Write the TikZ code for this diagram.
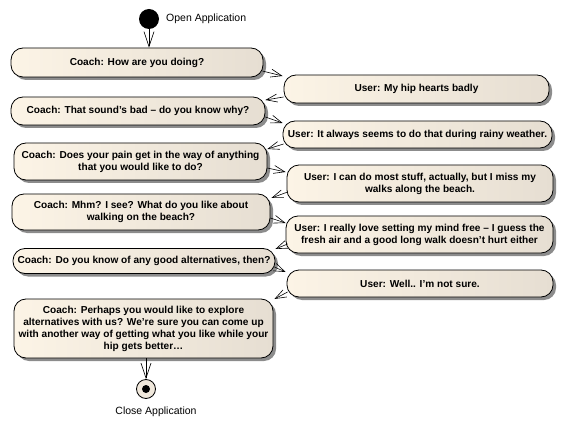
\documentclass[tikz,border=0pt]{standalone}
\usepackage{fontspec}
\setmainfont{Liberation Sans}
\usetikzlibrary{arrows.meta,shadows,calc}
\definecolor{boxL}{RGB}{252,244,230}
\definecolor{boxR}{RGB}{230,222,210}
\definecolor{endfill}{RGB}{240,232,220}
\tikzset{
  msg/.style={draw=black, line width=0.8pt, rounded corners=12pt, left color=boxL, right color=boxR,
    align=center, inner sep=0pt, font=\bfseries\fontsize{10.1}{12}\selectfont,
    drop shadow={shadow xshift=3pt, shadow yshift=-3pt, fill=black!45, opacity=1}},
  flow/.style={draw=black, line width=0.6pt, -{Straight Barb[length=11pt,width=8pt]}},
  vflow/.style={draw=black, line width=0.6pt, -{Straight Barb[length=15pt,width=10pt]}},
  lab/.style={font=\fontsize{10.5}{12}\selectfont, inner sep=0pt}
}
\begin{document}
\begin{tikzpicture}[x=1pt,y=-1pt]
\useasboundingbox (0,0) rectangle (564,446);
% start / end
\node[circle, fill=black, minimum size=20pt, inner sep=0pt] (s) at (149,19) {};
\node[lab, anchor=west] (slab) at (166,19) {Open Application};
\node[circle, draw=black, line width=0.8pt, fill=endfill, minimum size=19pt, inner sep=0pt] (e) at (146,389) {};
\node[circle, fill=black, minimum size=8pt, inner sep=0pt] (edot) at (e) {};
\node[lab] (elab) at (156,412) {Close Application};
% coach nodes
\node[msg, minimum width=252pt, minimum height=29pt] (c1) at (137,62.5) {Coach: How are you doing?};
\node[msg, minimum width=254pt, minimum height=28pt] (c2) at (138,111) {Coach: That sound's bad -- do you know why?};
\node[msg, minimum width=253pt, minimum height=37pt] (c3) at (140.5,161.5) {Coach: Does your pain get in the way of anything\\that you would like to do?};
\node[msg, minimum width=258pt, minimum height=36pt] (c4) at (141,212) {Coach: Mhm? I see? What do you like about\\walking on the beach?};
\node[msg, minimum width=262pt, minimum height=25pt] (c5) at (144,261) {Coach: Do you know of any good alternatives, then?};
\node[msg, minimum width=259pt, minimum height=59pt] (c6) at (143.5,328.5) {Coach: Perhaps you would like to explore\\alternatives with us? We’re sure you can come up\\with another way of getting what you like while your\\hip gets better…};
% user nodes
\node[msg, minimum width=265pt, minimum height=28pt] (u1) at (416.5,89) {User: My hip hearts badly};
\node[msg, minimum width=269pt, minimum height=27pt] (u2) at (417.5,134.5) {User: It always seems to do that during rainy weather.};
\node[msg, minimum width=266pt, minimum height=37pt] (u3) at (420,183.5) {User: I can do most stuff, actually, but I miss my\\walks along the beach.};
\node[msg, minimum width=267pt, minimum height=37pt] (u4) at (419.5,234.5) {User: I really love setting my mind free -- I guess the\\fresh air and a good long walk doesn’t hurt either};
\node[msg, minimum width=266pt, minimum height=27pt] (u5) at (420,283.5) {User: Well.. I’m not sure.};
% connectors
\draw[vflow] (s) -- (s |- c1.north);
\draw[vflow] (e |- c6.south) -- (e);
\draw[flow] ($(c1.east)+(-1,8.5)$) -- ($(u1.west)+(-1,-13)$);
\draw[flow] ($(u1.west)+(0,8)$) -- ($(c2.east)+(0,-11)$);
\draw[flow] ($(c2.east)+(0,6)$) -- ($(u2.west)+(0,-11.5)$);
\draw[flow] ($(u2.west)+(1,9.5)$) -- ($(c3.east)+(0,-12.5)$);
\draw[flow] ($(c3.east)+(0,6.5)$) -- ($(u3.west)+(-1,-11.5)$);
\draw[flow] ($(u3.west)+(1,8.5)$) -- ($(c4.east)+(1,-14)$);
\draw[flow] ($(c4.east)+(0,6)$) -- ($(u4.west)+(0,-11.5)$);
\draw[flow] ($(u4.west)+(2,9.5)$) -- ($(c5.east)+(0,-12)$);
\draw[flow] ($(c5.east)+(-1,6)$) -- ($(u5.west)+(-1,-11.5)$);
\draw[flow] ($(u5.west)+(1,8.5)$) -- ($(c6.east)+(1,-29.5)$);
\end{tikzpicture}
\end{document}
